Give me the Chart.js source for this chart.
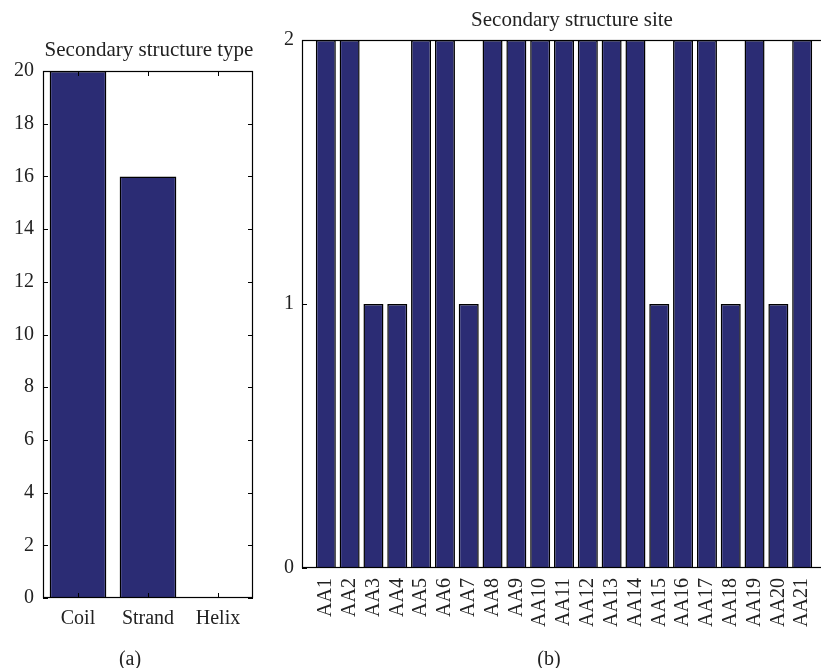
<!DOCTYPE html>
<html>
<head>
<meta charset="utf-8">
<script src="https://cdn.jsdelivr.net/npm/chart.js@4"></script>
<style>
  html, body { margin: 0; padding: 0; background: #fff; overflow: hidden; width: 821px; height: 668px; }
  #typeChart { position: absolute; left: 0; top: 0; }
  #siteChart { position: absolute; left: 270px; top: 0; }
</style>
</head>
<body>
<canvas id="typeChart" width="270" height="668"></canvas>
<canvas id="siteChart" width="570" height="668"></canvas>
<script>
// (a) secondary structure type
const typeLabels = ["Coil", "Strand", "Helix"];
const typeCounts = [20, 16, 0];
const typeTicks = [0, 2, 4, 6, 8, 10, 12, 14, 16, 18, 20];

// (b) secondary structure site
const siteLabels = ["AA1", "AA2", "AA3", "AA4", "AA5", "AA6", "AA7", "AA8", "AA9", "AA10", "AA11",
  "AA12", "AA13", "AA14", "AA15", "AA16", "AA17", "AA18", "AA19", "AA20", "AA21"];
const siteValues = [2, 2, 1, 1, 2, 2, 1, 2, 2, 2, 2, 2, 2, 2, 1, 2, 2, 1, 2, 1, 2];
const siteTicks = [0, 1, 2];

const barFill = "#2b2c74";
const textColor = "#222";

Chart.defaults.font.family = '"Liberation Serif", "DejaVu Serif", serif';
Chart.defaults.font.size = 20;
Chart.defaults.color = textColor;

// matlab style box, inward ticks, title and caption
const matlabFrame = {
  id: "matlabFrame",
  afterDraw(chart, args, opts) {
    const { ctx, chartArea: a, scales } = chart;
    ctx.save();
    ctx.strokeStyle = "#000";
    ctx.lineWidth = 1.2;
    ctx.strokeRect(Math.round(a.left) + 0.5, Math.round(a.top) + 0.5,
      Math.round(a.right - a.left) - 1, Math.round(a.bottom - a.top) - 1);

    ctx.lineWidth = 1;
    ctx.beginPath();
    scales.y.ticks.forEach(t => {
      const py = Math.round(scales.y.getPixelForValue(t.value)) + 0.5;
      ctx.moveTo(a.left, py); ctx.lineTo(a.left + 5, py);
      ctx.moveTo(a.right - 5, py); ctx.lineTo(a.right, py);
    });
    if (opts.xTicks) {
      scales.x.ticks.forEach((t, i) => {
        const px = Math.round(scales.x.getPixelForTick(i)) + 0.5;
        ctx.moveTo(px, a.bottom); ctx.lineTo(px, a.bottom - 5);
        ctx.moveTo(px, a.top); ctx.lineTo(px, a.top + 5);
      });
    }
    ctx.stroke();

    ctx.fillStyle = textColor;
    ctx.textAlign = "center";
    ctx.textBaseline = "alphabetic";
    ctx.font = '21px "Liberation Serif", "DejaVu Serif", serif';
    ctx.fillText(opts.title, opts.titleX, opts.titleY);
    ctx.font = '20px "Liberation Serif", "DejaVu Serif", serif';
    ctx.fillText(opts.caption, opts.captionX, opts.captionY);
    ctx.restore();
  }
};

new Chart(document.getElementById("typeChart"), {
  type: "bar",
  data: {
    labels: typeLabels,
    datasets: [{
      data: typeCounts,
      backgroundColor: barFill,
      borderColor: "#000",
      borderWidth: 1.5,
      barPercentage: 0.81,
      categoryPercentage: 1
    }]
  },
  options: {
    responsive: false,
    animation: false,
    layout: { padding: { left: 0, right: 17, top: 71, bottom: 0 } },
    plugins: {
      legend: { display: false },
      tooltip: { enabled: false },
      matlabFrame: {
        title: "Secondary structure type", titleX: 149, titleY: 56,
        caption: "(a)", captionX: 130, captionY: 665, xTicks: true
      }
    },
    scales: {
      x: {
        grid: { display: false, drawTicks: false },
        border: { display: false },
        ticks: { padding: 9 },
        afterFit: s => { s.height = 70; }
      },
      y: {
        min: 0, max: 20,
        grid: { display: false, drawTicks: false },
        border: { display: false },
        ticks: { padding: 9 },
        afterBuildTicks: s => { s.ticks = typeTicks.map(v => ({ value: v })); },
        afterFit: s => { s.width = 43; }
      }
    }
  },
  plugins: [matlabFrame]
});

new Chart(document.getElementById("siteChart"), {
  type: "bar",
  data: {
    datasets: [{
      data: siteValues.map((v, i) => ({ x: i + 1, y: v })),
      backgroundColor: barFill,
      borderColor: "#000",
      borderWidth: 1.5,
      barPercentage: 0.84,
      categoryPercentage: 1
    }]
  },
  options: {
    responsive: false,
    animation: false,
    layout: { padding: { left: 0, right: 14, top: 40, bottom: 0 } },
    plugins: {
      legend: { display: false },
      tooltip: { enabled: false },
      matlabFrame: {
        title: "Secondary structure site", titleX: 302, titleY: 26,
        caption: "(b)", captionX: 279, captionY: 665, xTicks: false
      }
    },
    scales: {
      x: {
        type: "linear",
        min: 0, max: 22,
        offset: false,
        grid: { display: false, drawTicks: false },
        border: { display: false },
        ticks: {
          autoSkip: false, minRotation: 90, maxRotation: 90, padding: 10,
          callback: v => siteLabels[v - 1]
        },
        afterBuildTicks: s => { s.ticks = siteLabels.map((l, i) => ({ value: i + 1 })); },
        afterFit: s => { s.height = 100; }
      },
      y: {
        min: 0, max: 2,
        grid: { display: false, drawTicks: false },
        border: { display: false },
        ticks: { padding: 8 },
        afterBuildTicks: s => { s.ticks = siteTicks.map(v => ({ value: v })); },
        afterFit: s => { s.width = 32; }
      }
    }
  },
  plugins: [matlabFrame]
});
</script>
</body>
</html>
